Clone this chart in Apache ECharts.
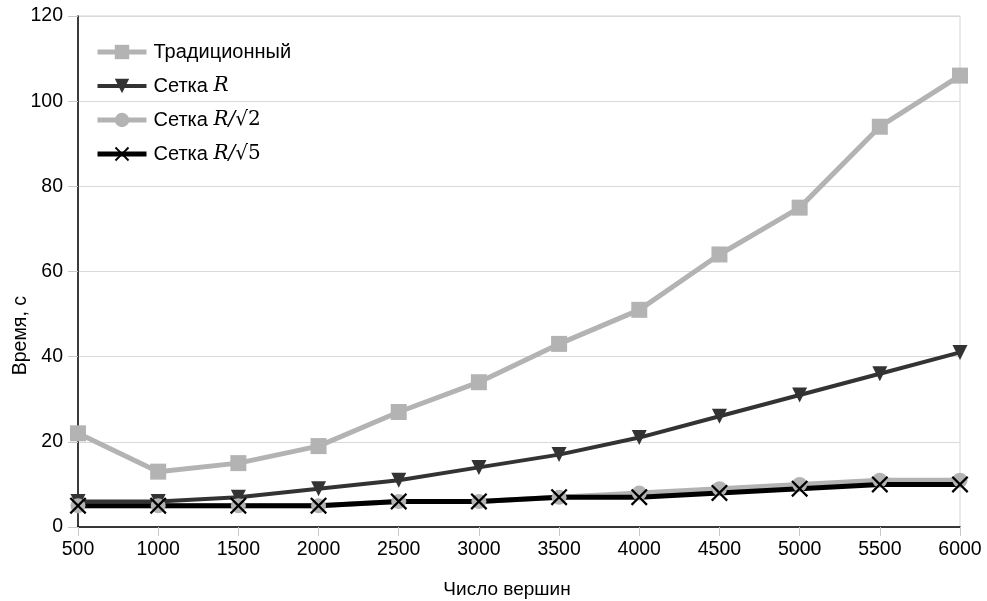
<!DOCTYPE html>
<html><head><meta charset="utf-8">
<script src="https://cdn.jsdelivr.net/npm/echarts@6/dist/echarts.min.js"></script>
<style>html,body{margin:0;padding:0;background:#fff}#c{width:987px;height:601px}</style>
</head><body><div id="c"></div>
<script>
const xValues = [500,1000,1500,2000,2500,3000,3500,4000,4500,5000,5500,6000];
const traditional = [22,13,15,19,27,34,43,51,64,75,94,106];
const gridR = [6,6,7,9,11,14,17,21,26,31,36,41];
const gridR2 = [5,5,5,5,6,6,7,8,9,10,11,11];
const gridR5 = [5,5,5,5,6,6,7,7,8,9,10,10];
const seriesNames = ['Традиционный','Сетка R','Сетка R/√2','Сетка R/√5'];
const legendRich = {
  'Традиционный': 'Традиционный',
  'Сетка R': 'Сетка {m|R}',
  'Сетка R/√2': 'Сетка {m|R/}{s|√2}',
  'Сетка R/√5': 'Сетка {m|R/}{s|√5}'
};
const lineWidths = [5,4,5,5];
const FONT = 'Liberation Sans';
const pair = a => a.map((v,i)=>[xValues[i], v]);
const crossPath = 'path://M0,1.5L1.5,0L8,6.5L14.5,0L16,1.5L9.5,8L16,14.5L14.5,16L8,9.5L1.5,16L0,14.5L6.5,8Z';

const chart = echarts.init(document.getElementById('c'), null, {renderer:'canvas'});
chart.setOption({
  animation:false,
  backgroundColor:'#fff',
  textStyle:{fontFamily:FONT},
  grid:{left:78,right:27,top:16,bottom:74,show:true,borderColor:'#d4d4d4',borderWidth:1,
    containLabel:false,outerBoundsMode:'none'},
  legend:{
    orient:'vertical', left:90, top:37, itemWidth:49, itemHeight:18, itemGap:14,
    data:seriesNames.map((n,i)=>({name:n, lineStyle:{width:lineWidths[i]}})),
    formatter: n => legendRich[n],
    textStyle:{fontFamily:FONT,fontSize:20,lineHeight:20,color:'#000',padding:[0,0,0,2],
      rich:{m:{fontFamily:'DejaVu Serif',fontStyle:'italic',fontSize:20,lineHeight:20,color:'#000'},
            s:{fontFamily:'DejaVu Serif',fontSize:20,lineHeight:20,color:'#000'}}}
  },
  xAxis:{
    type:'value', min:500, max:6000, interval:500,
    name:'Число вершин', nameLocation:'middle', nameGap:53,
    nameTextStyle:{fontFamily:FONT,fontSize:19,color:'#000',padding:[0,24,0,0]},
    axisLine:{lineStyle:{color:'#000',width:1.5}},
    axisTick:{show:true,length:9,lineStyle:{color:'#c8c8c8',width:1}},
    axisLabel:{fontFamily:FONT,fontSize:19.5,color:'#000',margin:13,formatter:v=>String(v)},
    splitLine:{show:false}
  },
  yAxis:{
    type:'value', min:0, max:120, interval:20,
    axisLine:{show:true,lineStyle:{color:'#000',width:1.5}},
    axisTick:{show:true,length:10,lineStyle:{color:'#c8c8c8',width:1}},
    axisLabel:{fontFamily:FONT,fontSize:19.5,color:'#000',margin:15},
    splitLine:{show:true,lineStyle:{color:'#d9d9d9',width:1}}
  },
  graphic:[{type:'text',left:11,top:296,rotation:Math.PI/2,
    style:{text:'Время, с',font:'19.5px "Liberation Sans"',fill:'#000'}}],
  series:[
    {name:seriesNames[0],type:'line',data:pair(traditional),symbol:'rect',symbolSize:16,
      lineStyle:{color:'#b3b3b3',width:lineWidths[0]},itemStyle:{color:'#b3b3b3'}},
    {name:seriesNames[1],type:'line',data:pair(gridR),symbol:'triangle',symbolRotate:180,symbolSize:15,
      lineStyle:{color:'#333333',width:lineWidths[1]},itemStyle:{color:'#333333'}},
    {name:seriesNames[2],type:'line',data:pair(gridR2),symbol:'circle',symbolSize:15,
      lineStyle:{color:'#b3b3b3',width:lineWidths[2]},itemStyle:{color:'#b3b3b3'}},
    {name:seriesNames[3],type:'line',data:pair(gridR5),symbol:crossPath,symbolSize:17,
      lineStyle:{color:'#000000',width:lineWidths[3]},itemStyle:{color:'#000000'}}
  ]
});
</script></body></html>
